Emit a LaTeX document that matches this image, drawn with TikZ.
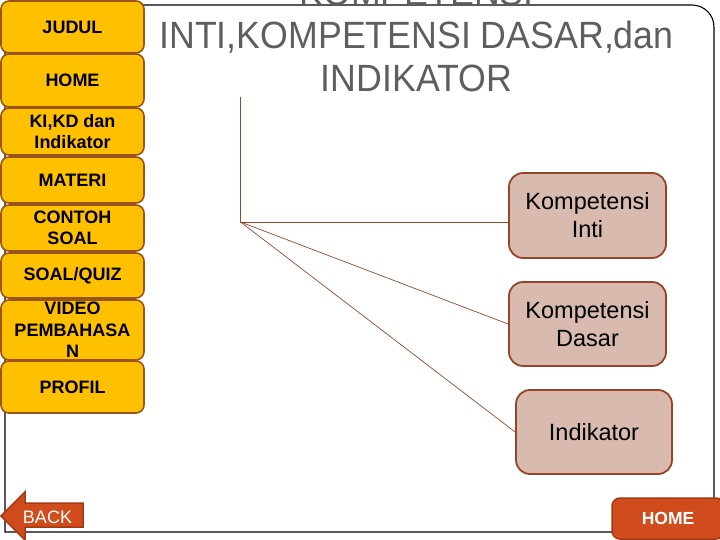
\documentclass[tikz,border=0pt]{standalone}
\usepackage{fontspec}
\setmainfont{Liberation Sans}
\newfontfamily\titlefont[FakeStretch=0.94]{Liberation Sans}
\definecolor{btnfill}{HTML}{FFC000}
\definecolor{btnedge}{HTML}{9A5418}
\definecolor{kfill}{HTML}{D8BAAF}
\definecolor{kedge}{HTML}{98442A}
\definecolor{lnk}{HTML}{8E4A2E}
\definecolor{redfill}{HTML}{D14C1C}
\definecolor{rededge}{HTML}{A43A14}
\definecolor{titlegray}{HTML}{5E5E5E}
\tikzset{
  lbtn/.style={draw=btnedge, fill=btnfill, line width=1.6pt, rounded corners=8pt,
    minimum width=143pt, inner sep=0pt, align=center,
    font=\fontsize{18}{21.5}\selectfont\bfseries},
  kbox/.style={draw=kedge, fill=kfill, line width=1.8pt, rounded corners=14pt,
    inner sep=0pt, align=center, font=\fontsize{23.5}{28}\selectfont},
  link/.style={draw=lnk, line width=0.7pt},
  redbtn/.style={draw=rededge, fill=redfill, line width=1.5pt},
}
\begin{document}
\begin{tikzpicture}[x=1pt,y=-1pt]
\useasboundingbox (0,0) rectangle (720,540);
\clip (0,0) rectangle (720,540);
% frame
\draw[line width=1.1pt] (5,5) -- (692,5) arc[start angle=270, end angle=360, radius=22] -- (714,532) -- (5,532) -- cycle;
% title
\node[anchor=north, inner sep=0pt, align=center, text=titlegray,
  font=\titlefont\fontsize{38}{43}\selectfont] (title) at (416.5,-21)
  {KOMPETENSI\\INTI,KOMPETENSI DASAR,dan\\INDIKATOR};
% left buttons
\node[lbtn, minimum height=52pt] (judul) at (72.5,27) {JUDUL};
\node[lbtn, minimum height=53pt] (home) at (72.5,80.5) {HOME};
\node[lbtn, minimum height=47pt] (kikd) at (72.5,131.5) {KI,KD dan\\Indikator};
\node[lbtn, minimum height=46pt] (materi) at (72.5,180) {MATERI};
\node[lbtn, minimum height=46pt] (contoh) at (72.5,228) {CONTOH\\SOAL};
\node[lbtn, minimum height=45pt] (soal) at (72.5,275.5) {SOAL/QUIZ};
\node[lbtn, minimum height=60pt] (video) at (72.5,330) {VIDEO\\PEMBAHASA\\N};
\node[lbtn, minimum height=52pt] (profil) at (72.5,387) {PROFIL};
% right boxes
\node[kbox, minimum width=157pt, minimum height=85pt] (ki) at (587.5,215.5) {Kompetensi\\Inti};
\node[kbox, minimum width=157pt, minimum height=84pt] (kd) at (587.5,324) {Kompetensi\\Dasar};
\node[kbox, minimum width=156pt, minimum height=84pt] (ind) at (594,432) {Indikator};
% connectors
\coordinate (top) at (240.5,97);
\coordinate (hub) at (240.5,222);
\draw[link] (top) -- (hub) -- (hub -| ki.west);
\draw[link] (hub) -- (kd.west);
\draw[link] (hub) -- (ind.west);
% back arrow
\draw[redbtn] (1,516) -- (25,492) -- (25,503) -- (83,503) -- (83,527) -- (25,527) -- (25,540) -- cycle;
\node[text=white, font=\fontsize{18}{20}\selectfont, inner sep=0pt] (back) at (47.5,517) {BACK};
% home button
\node[redbtn, rounded corners=8pt, minimum width=112pt, minimum height=41pt, inner sep=0pt,
  text=white, font=\fontsize{17.5}{20}\selectfont\bfseries] (home2) at (668,518.5) {HOME};
\end{tikzpicture}
\end{document}
